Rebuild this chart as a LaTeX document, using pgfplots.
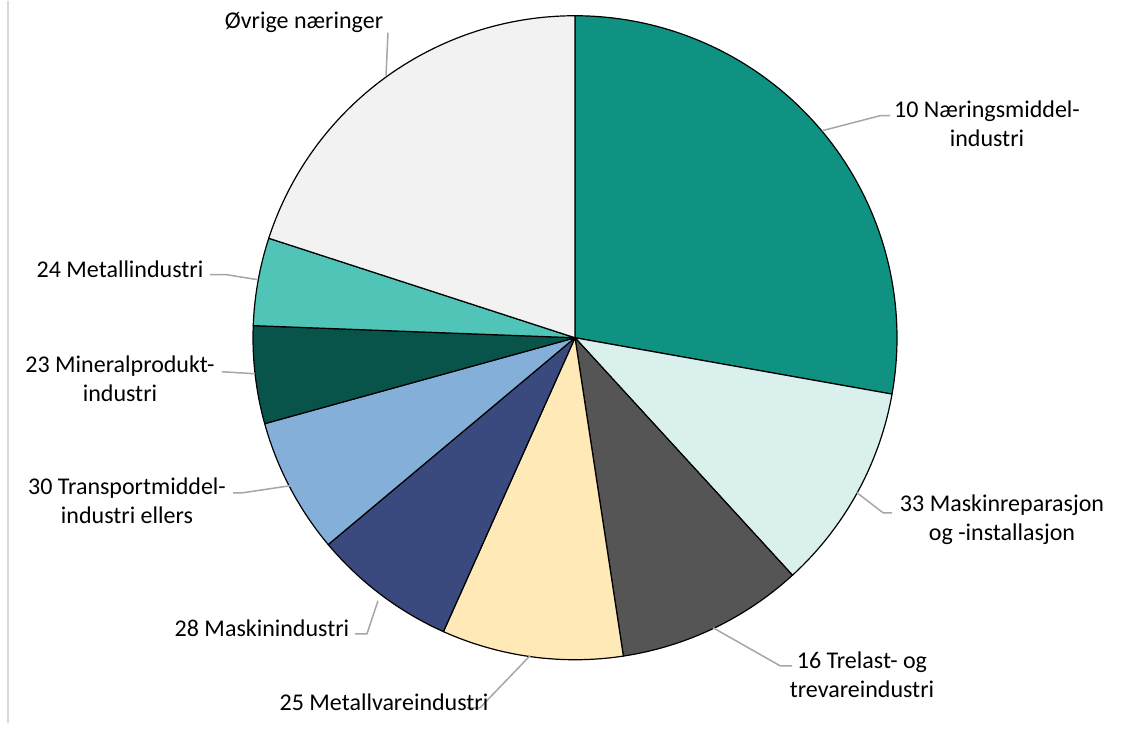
\documentclass[border=0pt]{standalone}
\usepackage{pgfplots}
\usepackage{pgfplotstable}
\pgfplotsset{compat=1.18}
\usepackage{fontspec}
\setmainfont{Carlito}
\definecolor{pc0}{RGB}{16,146,131}
\definecolor{pc1}{RGB}{217,240,237}
\definecolor{pc2}{RGB}{85,85,85}
\definecolor{pc3}{RGB}{254,233,183}
\definecolor{pc4}{RGB}{58,74,126}
\definecolor{pc5}{RGB}{131,175,217}
\definecolor{pc6}{RGB}{8,84,75}
\definecolor{pc7}{RGB}{81,196,184}
\definecolor{pc8}{RGB}{242,242,242}
\definecolor{leader}{RGB}{166,166,166}
\definecolor{frame}{RGB}{217,217,217}

% shares (percent), clockwise from 12 o'clock
\pgfplotstableread{
value
27.8
10.4
9.4
9.1
7.2
6.8
4.9
4.4
20.0
}\piedata

\begin{document}
\begin{tikzpicture}
\xdef\cum{90}
\pgfplotstableforeachcolumnelement{value}\of\piedata\as\v{%
  \pgfmathsetmacro\tmpa{\cum}%
  \pgfmathsetmacro\tmpb{\cum-3.6*\v}%
  \expandafter\xdef\csname sa\pgfplotstablerow\endcsname{\tmpa}%
  \expandafter\xdef\csname sb\pgfplotstablerow\endcsname{\tmpb}%
  \xdef\cum{\tmpb}%
}
\begin{axis}[
  hide axis, scale only axis,
  width=1134pt, height=731pt,
  xmin=0, xmax=1134, ymin=0, ymax=731,
  clip=false,
]
\path (axis cs:0,0) rectangle (axis cs:1134,731);
\pgfplotsinvokeforeach{0,...,8}{%
  \fill[fill=pc#1, draw=black, line width=1.2pt, line join=round]
    (axis cs:575,394) -- ++(\csname sa#1\endcsname:322pt)
    arc[start angle=\csname sa#1\endcsname, end angle=\csname sb#1\endcsname, radius=322pt] -- cycle;
}
% frame line on the left
\addplot[frame, line width=1.5pt] coordinates {(8,731) (8,9)};
% leader lines
\addplot[leader, line width=1.5pt] coordinates {(388,699) (386,656)};
\addplot[leader, line width=1.5pt] coordinates {(822,601) (880,616) (890,616)};
\addplot[leader, line width=1.5pt] coordinates {(857,239) (883,219) (892,219)};
\addplot[leader, line width=1.5pt] coordinates {(713,104) (780,66) (792,66)};
\addplot[leader, line width=1.5pt] coordinates {(530,76) (480,24) (467,24)};
\addplot[leader, line width=1.5pt] coordinates {(378,131) (367,98) (355,98)};
\addplot[leader, line width=1.5pt] coordinates {(290,246) (243,239) (233,239)};
\addplot[leader, line width=1.5pt] coordinates {(255,358) (222,360)};
\addplot[leader, line width=1.5pt] coordinates {(258,452) (227,457) (210,457)};
% labels
\begin{scope}[every node/.style={inner sep=0pt, align=center, font=\fontsize{24}{29}\selectfont}]
\node at (axis cs:304,709) {Øvrige næringer};
\node at (axis cs:987,608) {10 Næringsmiddel-\\industri};
\node at (axis cs:1002,212) {33 Maskinreparasjon\\og -installasjon};
\node at (axis cs:862,57) {16 Trelast- og\\trevareindustri};
\node at (axis cs:384,29) {25 Metallvareindustri};
\node at (axis cs:262,103) {28 Maskinindustri};
\node at (axis cs:127,231) {30 Transportmiddel-\\industri ellers};
\node at (axis cs:120,353) {23 Mineralprodukt-\\industri};
\node at (axis cs:120,462) {24 Metallindustri};
\end{scope}
\end{axis}
\end{tikzpicture}
\end{document}
